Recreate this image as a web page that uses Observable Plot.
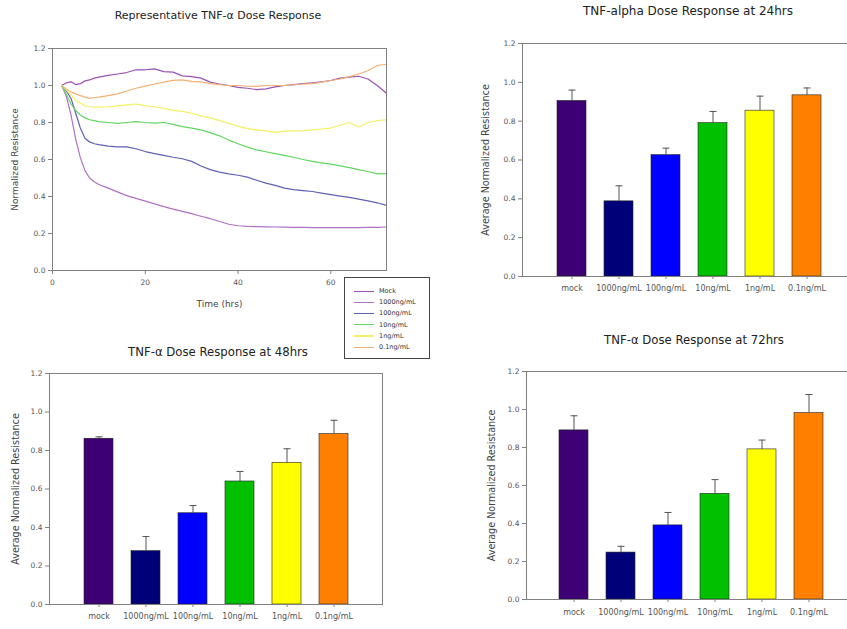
<!DOCTYPE html>
<html><head><meta charset="utf-8">
<script src="https://cdn.jsdelivr.net/npm/d3@7"></script>
<script src="https://cdn.jsdelivr.net/npm/@observablehq/plot@0.6"></script>
<style>
body{margin:0;background:#fff;}
#root{position:relative;width:847px;height:629px;overflow:hidden;font-family:"DejaVu Sans",sans-serif;background:#fff;}
.title{position:absolute;color:#222;white-space:nowrap;transform:translate(-50%,-50%);line-height:1;}
#legend{position:absolute;left:344px;top:277px;width:86px;height:82px;border:1px solid #444;background:#fff;box-sizing:border-box;font-size:6.5px;color:#333;}
#legend .item{position:absolute;left:0;height:0;}
#legend .sw{position:absolute;left:9px;top:-0.5px;width:20px;height:1.3px;}
#legend .lb{position:absolute;left:34px;top:0;transform:translateY(-50%);white-space:nowrap;line-height:1;}
</style></head><body><div id="root"></div>
<script>
// ---------- Line chart data ----------
const hours = [2,3,4,5,6,7,8,9,10,12,14,16,18,20,22,24,26,28,30,32,34,36,38,40,42,44,46,48,50,52,54,56,58,60,62,64,66,68,70,72];
const seriesNames = ["Mock","1000ng/mL","100ng/mL","10ng/mL","1ng/mL","0.1ng/mL"];
const mockLine = [1.00,1.015,1.02,1.005,1.01,1.025,1.03,1.04,1.045,1.055,1.062,1.07,1.085,1.085,1.09,1.075,1.072,1.052,1.048,1.04,1.018,1.008,1.0,0.99,0.985,0.978,0.982,0.993,1.0,1.005,1.01,1.014,1.02,1.027,1.04,1.045,1.05,1.035,1.0,0.958];
const line1000 = [1.0,0.94,0.84,0.71,0.61,0.54,0.5,0.48,0.465,0.445,0.425,0.405,0.39,0.375,0.36,0.345,0.332,0.32,0.307,0.293,0.28,0.265,0.25,0.242,0.238,0.237,0.236,0.235,0.234,0.233,0.233,0.232,0.232,0.232,0.232,0.232,0.232,0.233,0.233,0.235];
const line100 = [1.0,0.97,0.93,0.85,0.77,0.715,0.695,0.685,0.68,0.672,0.668,0.668,0.658,0.643,0.632,0.622,0.612,0.604,0.59,0.565,0.545,0.532,0.522,0.515,0.505,0.488,0.472,0.46,0.445,0.437,0.432,0.427,0.418,0.41,0.402,0.395,0.386,0.376,0.366,0.352];
const line10 = [1.0,0.95,0.9,0.865,0.84,0.825,0.815,0.81,0.805,0.8,0.795,0.8,0.805,0.8,0.797,0.8,0.79,0.778,0.77,0.76,0.745,0.728,0.705,0.685,0.667,0.652,0.642,0.632,0.622,0.612,0.6,0.59,0.582,0.575,0.566,0.556,0.545,0.535,0.522,0.524];
const line1 = [1.0,0.975,0.95,0.92,0.905,0.89,0.885,0.883,0.883,0.885,0.89,0.895,0.9,0.89,0.885,0.876,0.866,0.86,0.85,0.836,0.825,0.81,0.795,0.78,0.767,0.76,0.755,0.747,0.753,0.755,0.756,0.76,0.765,0.77,0.785,0.8,0.776,0.8,0.81,0.815];
const line01 = [1.0,0.98,0.965,0.955,0.945,0.937,0.93,0.935,0.937,0.945,0.955,0.97,0.985,0.997,1.008,1.018,1.028,1.03,1.022,1.02,1.01,1.005,1.0,1.0,0.996,0.995,1.0,1.0,1.0,1.004,1.008,1.01,1.018,1.027,1.035,1.048,1.062,1.08,1.108,1.115];
const timeTicks = [0,20,40,60];

// ---------- Bar chart data ----------
const doses = ["mock","1000ng/mL","100ng/mL","10ng/mL","1ng/mL","0.1ng/mL"];
const mean24 = [0.904,0.387,0.625,0.79,0.854,0.933];
const err24  = [0.056,0.080,0.036,0.060,0.075,0.038];
const mean48 = [0.861,0.277,0.474,0.639,0.736,0.885];
const err48  = [0.010,0.076,0.040,0.052,0.073,0.072];
const mean72 = [0.890,0.247,0.390,0.556,0.790,0.981];
const err72  = [0.077,0.033,0.068,0.075,0.049,0.098];
const yTicks = [0,0.2,0.4,0.6,0.8,1.0,1.2];

// ---------- Styles ----------
const lineColors = ["#9a52b8","#b070c4","#6060b4","#62d662","#f2f064","#f0b272"];
const barColors = ["#3d0075","#000078","#0000ff","#00c000","#ffff00","#ff8000"];
const axisGray = "#808080";
const tickText = "#555";
const fmt = d3.format(".1f");
const root = document.getElementById("root");

function place(el, left, top){
  el.style.position = "absolute"; el.style.left = left+"px"; el.style.top = top+"px";
  root.appendChild(el);
}
function title(text, cx, cy, size){
  const d = document.createElement("div");
  d.className = "title"; d.textContent = text;
  d.style.left = cx+"px"; d.style.top = cy+"px"; d.style.fontSize = size+"px";
  root.appendChild(d);
}
const svgStyle = {background:"transparent", fontFamily:"DejaVu Sans, sans-serif", fontSize:"7.5px", overflow:"visible", maxWidth:"none"};

// ---------- Panel 1: line chart ----------
const allSeries = [mockLine,line1000,line100,line10,line1,line01];
const lineData = seriesNames.flatMap((name,i)=>hours.map((h,j)=>({series:name, t:h, v:allSeries[i][j]})));
const p1 = Plot.plot({
  width:400, height:320, marginLeft:52, marginTop:48, marginRight:14, marginBottom:50,
  style:svgStyle,
  x:{domain:[0,72]}, y:{domain:[0,1.2]},
  color:{domain:seriesNames, range:lineColors},
  marks:[
    Plot.line(lineData,{x:"t", y:"v", z:"series", stroke:"series", strokeWidth:1.2}),
    Plot.frame({stroke:axisGray}),
    Plot.axisX({ticks:timeTicks, tickSize:4, tickPadding:5, stroke:axisGray, fill:tickText, fontSize:7.5, label:null}),
    Plot.axisY({ticks:yTicks, tickFormat:fmt, tickSize:4, tickPadding:3, stroke:axisGray, fill:tickText, fontSize:7.5, label:null}),
    Plot.text(["Normalized Resistance"],{frameAnchor:"left", textAnchor:"middle", dx:-37, rotate:-90, fontSize:9, fill:"#444"}),
    Plot.text(["Time (hrs)"],{frameAnchor:"bottom", textAnchor:"middle", dy:36, fontSize:9, fill:"#444"})
  ]
});
place(p1, 0, 0);
title("Representative TNF-\u03b1 Dose Response", 218, 15, 11);

// ---------- Bar panels ----------
const capSymbol = {draw(ctx,size){const r=Math.sqrt(size/Math.PI); ctx.moveTo(-r,0); ctx.lineTo(r,0);}};
function barPanel(means, errs, o){
  const data = doses.map((d,i)=>({dose:d, mean:means[i], upper:means[i]+errs[i]}));
  return Plot.plot({
    width:o.width, height:o.height, marginLeft:o.mL, marginTop:o.mT, marginRight:o.mR, marginBottom:o.mB,
    style:svgStyle,
    x:{domain:doses, paddingInner:0.39, paddingOuter:0.695},
    y:{domain:[0,1.2]},
    color:{domain:doses, range:barColors},
    marks:[
      Plot.barY(data,{x:"dose", y:"mean", fill:"dose", stroke:"#222", strokeWidth:0.6}),
      Plot.ruleX(data,{x:"dose", y1:"mean", y2:"upper", stroke:"#555", strokeWidth:1}),
      Plot.dot(data,{x:"dose", y:"upper", symbol:capSymbol, r:3.5, stroke:"#555", fill:"none", strokeWidth:1}),
      Plot.frame({stroke:axisGray}),
      Plot.axisY({ticks:yTicks, tickFormat:fmt, tickSize:4, tickPadding:3, stroke:axisGray, fill:tickText, fontSize:7.5, label:null}),
      Plot.axisX({tickSize:3, tickPadding:o.xPad, stroke:axisGray, fill:tickText, fontSize:8, label:null}),
      Plot.text(["Average Normalized Resistance"],{frameAnchor:"left", textAnchor:"middle", dx:o.yLab, rotate:-90, fontSize:9.6, fill:"#444"})
    ]
  });
}
const p2 = barPanel(mean24, err24, {width:445, height:290, mL:102, mT:23, mR:10, mB:34, xPad:6, yLab:-37});
place(p2, 420, 20);
title("TNF-alpha Dose Response at 24hrs", 688, 11, 12);

const p3 = barPanel(mean48, err48, {width:400, height:299, mL:49, mT:43, mR:18, mB:25, xPad:6, yLab:-34});
place(p3, 0, 330);
title("TNF-\u03b1 Dose Response at 48hrs", 218, 353, 11.7);

const p4 = barPanel(mean72, err72, {width:446, height:299, mL:106, mT:41, mR:10, mB:30, xPad:7, yLab:-35});
place(p4, 420, 330);
title("TNF-\u03b1 Dose Response at 72hrs", 694, 341, 11.7);

// ---------- Legend for line chart ----------
const legend = document.createElement("div");
legend.id = "legend";
seriesNames.forEach((name,i)=>{
  const it = document.createElement("div");
  it.className = "item"; it.style.top = (13 + i*11.2)+"px";
  const sw = document.createElement("span"); sw.className = "sw"; sw.style.background = lineColors[i];
  const lb = document.createElement("span"); lb.className = "lb"; lb.textContent = name;
  it.appendChild(sw); it.appendChild(lb); legend.appendChild(it);
});
root.appendChild(legend);
</script></body></html>
